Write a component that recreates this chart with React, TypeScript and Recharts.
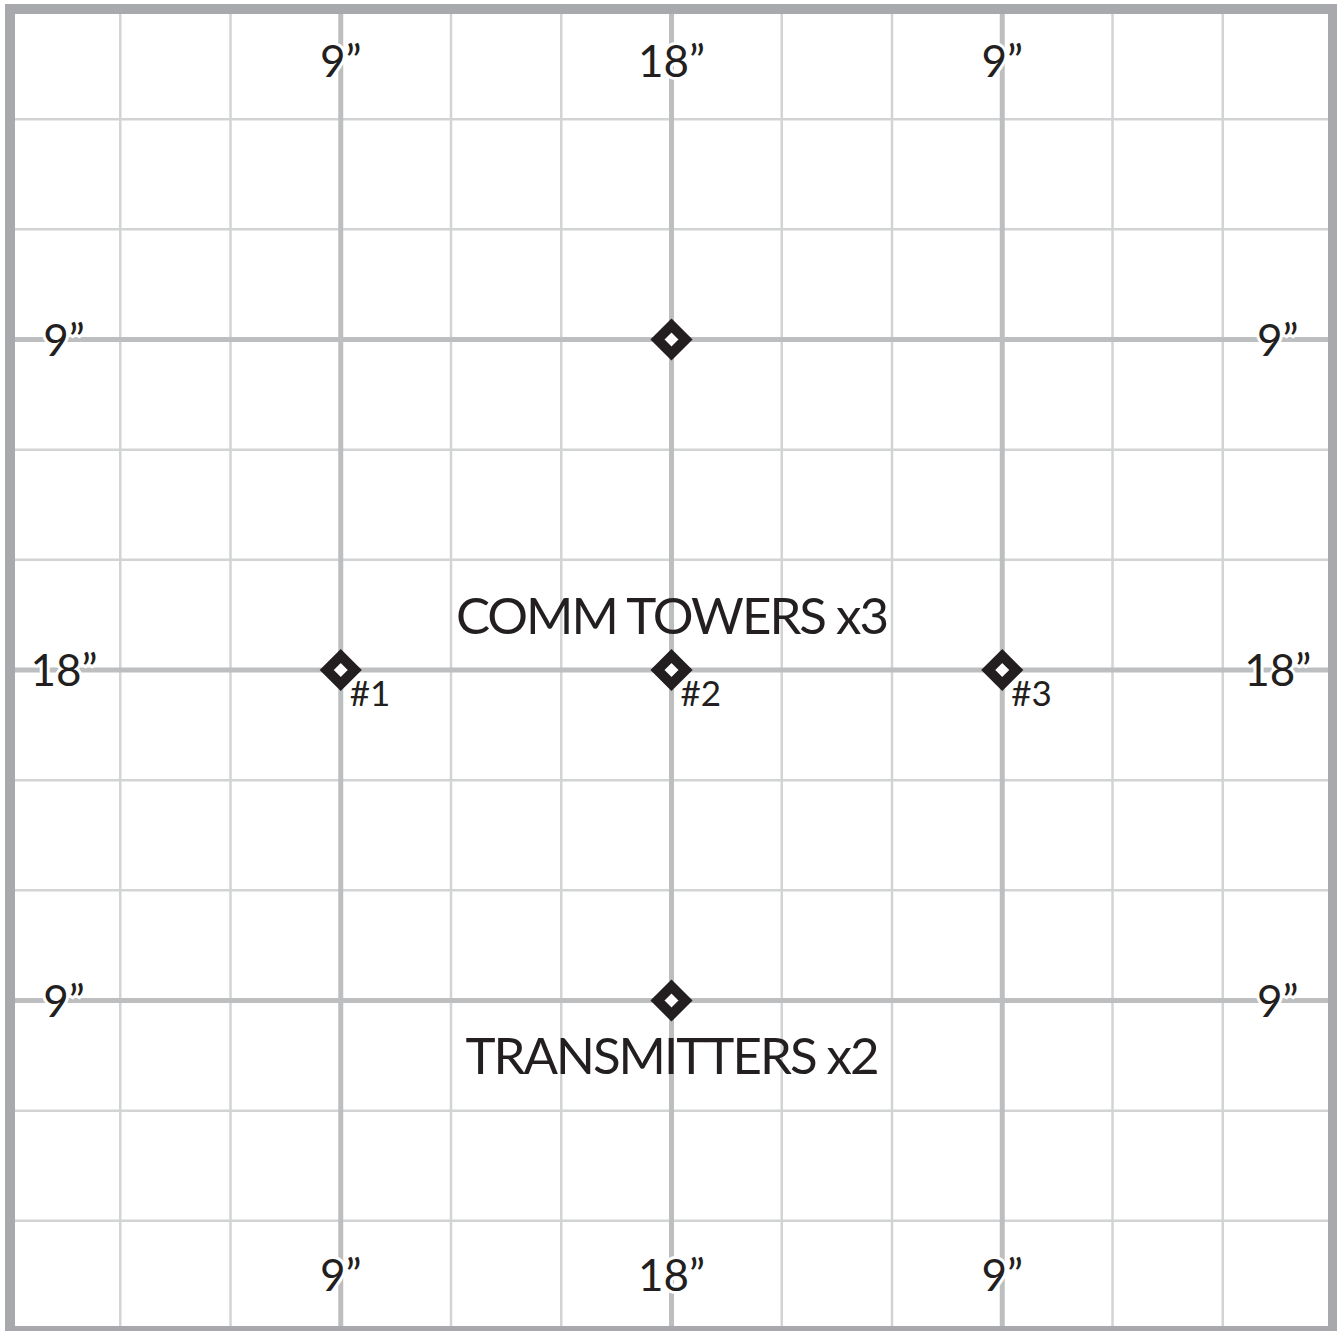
import React from 'react';
import { ScatterChart, Scatter, XAxis, YAxis, ReferenceLine } from 'recharts';

// Board measured in inches (0..36 in both directions, y measured from top)
const THIN_LINES = [3, 6, 12, 15, 21, 24, 30, 33];
const THICK_LINES = [9, 18, 27];
const BORDER_LINES = [0, 36];

const objectives = [
  { x: 18, y: 9, label: '' },
  { x: 9, y: 18, label: '#1' },
  { x: 18, y: 18, label: '#2' },
  { x: 27, y: 18, label: '#3' },
  { x: 18, y: 27, label: '' },
];

const edgeLabels = [
  { x: 9, y: 1.42, text: '9”' },
  { x: 18, y: 1.42, text: '18”' },
  { x: 27, y: 1.42, text: '9”' },
  { x: 9, y: 34.48, text: '9”' },
  { x: 18, y: 34.48, text: '18”' },
  { x: 27, y: 34.48, text: '9”' },
  { x: 1.47, y: 9, text: '9”' },
  { x: 1.47, y: 18, text: '18”' },
  { x: 1.47, y: 27, text: '9”' },
  { x: 34.5, y: 9, text: '9”' },
  { x: 34.5, y: 18, text: '18”' },
  { x: 34.5, y: 27, text: '9”' },
];

const captions = [
  { x: 18, y: 16.52, text: 'COMM TOWERS x3' },
  { x: 18, y: 28.51, text: 'TRANSMITTERS x2' },
];

const FONT = "Lato, 'Open Sans', 'DejaVu Sans', sans-serif";
const TEXT = '#231f20';

const DiamondShape = (props: any) => {
  const { cx, cy, payload } = props;
  const r = 14;
  const d = `M${cx},${cy - r} L${cx + r},${cy} L${cx},${cy + r} L${cx - r},${cy} Z`;
  return (
    <g>
      <path d={d} fill="#ffffff" stroke={TEXT} strokeWidth={10} strokeLinejoin="miter" />
      {payload.label ? (
        <text
          x={cx + 9}
          y={cy + 36}
          fontFamily={FONT}
          fontWeight={400}
          fontSize={35}
          fill={TEXT}
          stroke="#ffffff"
          strokeWidth={5}
          paintOrder="stroke"
        >
          {payload.label}
        </text>
      ) : null}
    </g>
  );
};

const EdgeLabelShape = (props: any) => {
  const { cx, cy, payload } = props;
  return (
    <text
      x={cx}
      y={cy + 16}
      textAnchor="middle"
      fontFamily={FONT}
      fontWeight={400}
      fontSize={44}
      fill={TEXT}
      stroke="#ffffff"
      strokeWidth={6}
      paintOrder="stroke"
    >
      {payload.text}
    </text>
  );
};

const CaptionShape = (props: any) => {
  const { cx, cy, payload } = props;
  return (
    <text
      x={cx}
      y={cy + 18.5}
      textAnchor="middle"
      fontFamily={FONT}
      fontWeight={400}
      fontSize={51}
      letterSpacing={-2}
      fill={TEXT}
    >
      {payload.text}
    </text>
  );
};

export default function App() {
  return (
    <div style={{ position: 'absolute', left: 0, top: 0, width: 1337, height: 1331, background: '#ffffff' }}>
      <ScatterChart width={1337} height={1331} margin={{ top: 9, right: 4, bottom: 0, left: 10 }}>
        <XAxis type="number" dataKey="x" domain={[0, 36]} hide allowDataOverflow />
        <YAxis type="number" dataKey="y" domain={[0, 36]} reversed hide allowDataOverflow />
        {THIN_LINES.map((v) => (
          <ReferenceLine key={`tx${v}`} x={v} stroke="#d1d3d4" strokeWidth={2.5} />
        ))}
        {THIN_LINES.map((v) => (
          <ReferenceLine key={`ty${v}`} y={v} stroke="#d1d3d4" strokeWidth={2.5} />
        ))}
        {THICK_LINES.map((v) => (
          <ReferenceLine key={`kx${v}`} x={v} stroke="#bcbec0" strokeWidth={5} />
        ))}
        {THICK_LINES.map((v) => (
          <ReferenceLine key={`ky${v}`} y={v} stroke="#bcbec0" strokeWidth={5} />
        ))}
        {BORDER_LINES.map((v) => (
          <ReferenceLine key={`bx${v}`} x={v} stroke="#a7a9ac" strokeWidth={10} strokeLinecap="square" />
        ))}
        {BORDER_LINES.map((v) => (
          <ReferenceLine key={`by${v}`} y={v} stroke="#a7a9ac" strokeWidth={10} strokeLinecap="square" />
        ))}
        <Scatter data={captions} shape={CaptionShape} isAnimationActive={false} />
        <Scatter data={edgeLabels} shape={EdgeLabelShape} isAnimationActive={false} />
        <Scatter data={objectives} shape={DiamondShape} isAnimationActive={false} />
      </ScatterChart>
    </div>
  );
}
